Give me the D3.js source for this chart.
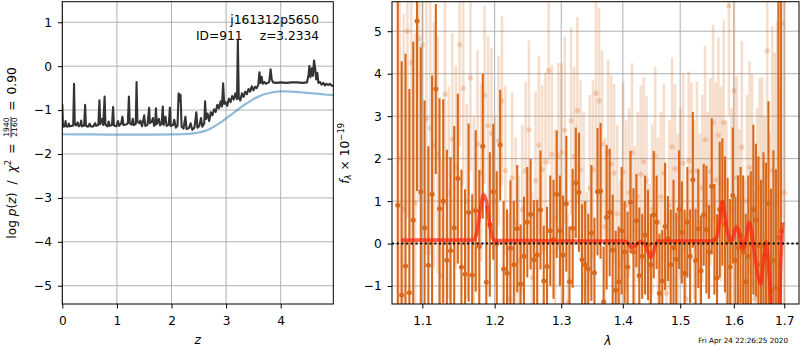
<!DOCTYPE html>
<html>
<head>
<meta charset="utf-8">
<script src="https://cdn.jsdelivr.net/npm/d3@7"></script>
<style>
  body { margin: 0; background: #fff; }
  svg { display: block; }
  text { font-family: "DejaVu Sans", sans-serif; fill: #000; }
</style>
</head>
<body>
<svg id="fig" width="800" height="350"></svg>
<script>
// ---------- redshift probability, left panel ----------
const zGrid = [
  0.000,0.012,0.030,0.050,0.060,0.072,0.100,0.120,0.135,0.170,
  0.200,0.215,0.228,0.250,0.280,0.300,0.330,0.345,0.360,0.400,
  0.418,0.432,0.470,0.500,0.520,0.570,0.600,0.620,0.660,0.680,
  0.695,0.730,0.750,0.775,0.790,0.830,0.850,0.870,0.910,0.930,
  0.945,0.990,1.020,1.040,1.080,1.100,1.120,1.170,1.200,1.220,
  1.235,1.270,1.290,1.310,1.345,1.360,1.375,1.410,1.430,1.460,
  1.500,1.520,1.560,1.590,1.605,1.640,1.660,1.680,1.700,1.715,
  1.730,1.770,1.790,1.820,1.840,1.855,1.890,1.910,1.950,1.970,
  1.985,2.030,2.050,2.080,2.110,2.130,2.150,2.165,2.185,2.220,
  2.255,2.275,2.320,2.350,2.380,2.420,2.455,2.475,2.510,2.540,
  2.565,2.600,2.615,2.632,2.660,2.690,2.720,2.750,2.780,2.810,
  2.840,2.870,2.900,2.925,2.945,2.965,2.990,3.020,3.050,3.080,
  3.110,3.140,3.170,3.200,3.215,3.232,3.260,3.290,3.320,3.350,
  3.380,3.410,3.440,3.470,3.500,3.530,3.560,3.590,3.610,3.630,
  3.650,3.670,3.700,3.730,3.760,3.790,3.815,3.835,3.860,3.920,
  4.000,4.100,4.200,4.300,4.400,4.480,4.510,4.525,4.545,4.570,
  4.590,4.610,4.630,4.650,4.670,4.690,4.720,4.750,4.780,4.810,
  4.840,4.870,4.900,4.930,4.960
];
const logPz = [
  -0.86,-1.36,-1.38,-1.34,-1.25,-1.37,-1.38,-1.31,-1.37,-1.36,
  -1.35,-0.40,-1.30,-1.35,-1.28,-1.37,-1.34,-1.24,-1.37,-1.35,
  -0.88,-1.36,-1.38,-1.31,-1.37,-1.37,-1.30,-1.36,-1.34,-0.78,
  -1.32,-1.20,-1.34,-0.69,-1.33,-1.37,-1.26,-1.36,-1.34,-0.93,
  -1.35,-1.37,-1.25,-1.36,-1.30,-1.15,-1.34,-1.33,-1.30,-0.69,
  -1.30,-1.33,-1.20,-1.34,-1.32,-0.36,-1.26,-1.30,-1.24,-1.37,
  -1.12,-1.36,-1.34,-0.95,-1.30,-1.26,-1.18,-1.36,-1.33,-0.96,
  -1.32,-1.20,-1.35,-1.30,-0.92,-1.34,-1.15,-1.36,-1.33,-0.94,
  -1.36,-1.34,-1.22,-1.40,-1.36,-0.62,-0.80,-0.65,-1.38,-1.42,
  -1.15,-1.43,-1.41,-1.30,-1.45,-1.40,-1.05,-1.40,-1.36,-1.18,
  -1.38,-1.30,-0.80,-1.20,-1.08,-1.25,-1.05,-1.12,-0.98,-1.04,
  -0.88,-0.96,-0.80,-0.92,-0.39,-0.86,-0.82,-0.90,-0.74,-0.82,
  -0.68,-0.76,-0.62,-0.75,0.60,-0.72,-0.78,-0.62,-0.70,-0.58,
  -0.64,-0.52,-0.58,-0.46,-0.55,-0.47,-0.50,-0.42,-0.14,-0.38,
  -0.24,-0.40,-0.36,-0.40,-0.38,-0.36,-0.07,-0.30,-0.37,-0.38,
  -0.37,-0.38,-0.37,-0.37,-0.38,-0.37,-0.20,0.00,-0.25,-0.05,
  -0.22,0.13,-0.05,-0.30,-0.15,-0.38,-0.36,-0.42,-0.38,-0.44,
  -0.40,-0.43,-0.40,-0.44,-0.45
];
// prior on z
const zPrior = [0.0,0.5,1.0,1.5,2.0,2.2,2.4,2.5,2.6,2.7,2.8,2.9,3.0,3.1,3.2,3.3,3.4,3.5,3.6,3.7,3.8,3.9,4.0,4.1,4.2,4.4,4.6,4.8,4.96];
const logPrior = [-1.55,-1.555,-1.56,-1.56,-1.555,-1.55,-1.53,-1.51,-1.48,-1.43,-1.36,-1.28,-1.19,-1.10,-1.00,-0.91,-0.83,-0.75,-0.69,-0.64,-0.61,-0.585,-0.575,-0.575,-0.58,-0.60,-0.62,-0.645,-0.66];

// ---------- spectrum, right panel ----------
const waveA = [
  1.068,1.073,1.078,1.083,1.088,1.093,1.098,1.103,1.108,1.113,
  1.118,1.123,1.128,1.133,1.138,1.143,1.148,1.153,1.158,1.163,
  1.168,1.173,1.178,1.183,1.188,1.193,1.198,1.203,1.208,1.213,
  1.218,1.223,1.228,1.233,1.238,1.243,1.248,1.253,1.258,1.263,
  1.268,1.273,1.278,1.283,1.288,1.293,1.298,1.303,1.308,1.313,
  1.318,1.323,1.328,1.333,1.338,1.343,1.348,1.353,1.358,1.363,
  1.368,1.373,1.378,1.383,1.388,1.393,1.398,1.403,1.408,1.413,
  1.418,1.423,1.428,1.433,1.438,1.443,1.448,1.453,1.458,1.463,
  1.468,1.473,1.478,1.483,1.488,1.493,1.498,1.503,1.508,1.513,
  1.518,1.523,1.528,1.533,1.538,1.543,1.548,1.553,1.558,1.563,
  1.568,1.573,1.578,1.583,1.588,1.593,1.598,1.603,1.608,1.613,
  1.618,1.623,1.628,1.633,1.638,1.643,1.648,1.653,1.658,1.663,
  1.668,1.673,1.678,1.683,1.688,1.693
];
const fluxA = [
  0.90,-1.21,-0.53,-1.16,0.55,5.24,1.22,0.37,-0.51,1.16,
  3.64,0.82,1.00,-0.39,-0.17,0.37,1.53,-0.56,-0.72,0.73,
  -0.74,0.77,-0.07,2.29,-0.91,0.45,1.22,0.00,2.32,-0.60,
  -0.70,-0.11,-0.50,0.35,-0.95,-0.30,0.50,0.69,-0.38,-0.27,
  0.79,-0.88,-0.54,0.30,0.10,1.16,0.30,-0.27,0.94,-0.90,
  0.36,1.43,1.21,-0.38,-0.50,-0.60,0.25,-0.69,1.22,1.24,
  -1.37,0.62,0.73,-0.15,-1.10,-0.90,0.30,-0.20,-0.55,0.98,
  -0.20,0.54,-0.75,-0.30,0.20,-0.03,-0.50,0.68,0.50,-1.17,
  -0.88,0.40,0.12,-0.50,-0.10,-0.37,0.80,0.26,-0.70,0.50,
  -0.30,1.50,-0.40,0.35,-0.64,0.68,0.33,-0.20,1.35,0.10,
  -0.81,0.80,0.98,0.45,0.05,-0.55,1.13,-0.40,-0.10,0.20,
  -0.20,-0.90,-0.30,0.00,0.80,0.55,-0.05,-0.50,-0.05,-0.30,
  0.95,-1.11,-0.40,-1.05,0.14,0.30
];
const errA = [
  6.5,5.5,5.0,4.8,4.2,4.0,3.4,3.0,2.8,2.8,
  2.0,2.6,2.4,2.6,2.2,2.4,2.0,2.3,2.0,2.1,
  1.9,1.9,1.8,1.7,1.8,1.7,1.6,1.7,1.3,1.6,
  1.5,1.6,1.5,1.5,1.4,1.4,1.3,1.3,1.4,1.3,
  1.4,1.3,1.4,1.3,1.4,1.5,1.3,1.4,1.6,1.3,
  1.4,1.3,1.4,1.3,1.5,1.3,1.6,1.3,1.5,1.6,
  1.3,1.7,1.5,1.3,1.4,1.3,1.5,1.2,1.3,1.2,
  1.5,1.1,1.6,1.0,1.4,1.3,1.2,1.5,1.1,1.4,
  1.2,1.5,1.0,1.3,1.6,1.1,1.4,1.2,1.5,1.3,
  1.1,1.6,1.2,1.4,1.3,1.2,1.5,1.1,1.6,1.3,
  1.5,1.6,1.5,1.6,1.5,1.6,1.6,1.5,1.7,1.6,
  1.8,1.6,1.9,1.7,2.0,1.8,2.1,2.0,2.2,2.2,
  2.4,2.4,2.6,2.8,9.0,9.0
];
const waveB = [
  1.0705,1.0755,1.0805,1.0855,1.0905,1.0955,1.1005,1.1055,1.1105,1.1155,
  1.1205,1.1255,1.1305,1.1355,1.1405,1.1455,1.1505,1.1555,1.1605,1.1655,
  1.1705,1.1755,1.1805,1.1855,1.1905,1.1955,1.2005,1.2055,1.2105,1.2155,
  1.2205,1.2255,1.2305,1.2355,1.2405,1.2455,1.2505,1.2555,1.2605,1.2655,
  1.2705,1.2755,1.2805,1.2855,1.2905,1.2955,1.3005,1.3055,1.3105,1.3155,
  1.3205,1.3255,1.3305,1.3355,1.3405,1.3455,1.3505,1.3555,1.3605,1.3655,
  1.3705,1.3755,1.3805,1.3855,1.3905,1.3955,1.4005,1.4055,1.4105,1.4155,
  1.4205,1.4255,1.4305,1.4355,1.4405,1.4455,1.4505,1.4555,1.4605,1.4655,
  1.4705,1.4755,1.4805,1.4855,1.4905,1.4955,1.5005,1.5055,1.5105,1.5155,
  1.5205,1.5255,1.5305,1.5355,1.5405,1.5455,1.5505,1.5555,1.5605,1.5655,
  1.5705,1.5755,1.5805,1.5855,1.5905,1.5955,1.6005,1.6055,1.6105,1.6155,
  1.6205,1.6255,1.6305,1.6355,1.6405,1.6455,1.6505,1.6555,1.6605,1.6655,
  1.6705,1.6755,1.6805,1.6855,1.6905,1.6955,1.7005
];
const fluxB = [
  2.00,0.81,5.00,4.26,0.95,4.82,4.68,2.94,2.72,2.31,
  2.10,-0.75,3.52,1.20,2.46,1.79,4.68,3.66,1.00,3.90,
  0.80,2.35,1.67,3.50,2.78,2.60,1.00,2.42,3.36,1.72,
  -1.30,1.55,0.50,-0.40,0.80,1.71,2.68,-0.80,1.48,2.32,
  1.74,1.92,4.07,2.10,0.60,2.05,2.15,2.67,-1.39,2.89,
  2.06,3.13,1.74,0.90,-0.90,1.30,1.74,3.54,3.36,2.35,
  0.40,2.14,1.87,1.66,0.70,-0.50,1.69,0.90,1.20,2.14,
  0.30,1.10,1.63,1.92,1.48,-0.60,0.80,2.06,0.50,1.10,
  1.66,-1.17,0.90,2.28,1.76,0.60,1.20,1.89,-1.30,1.95,
  1.70,0.80,1.72,0.50,1.30,2.45,0.90,1.70,2.85,1.50,
  2.55,1.40,2.85,0.50,5.60,0.80,3.60,1.55,0.30,2.27,
  -0.90,1.00,1.79,1.49,-1.30,0.60,1.30,1.22,0.20,4.54,
  -0.60,1.72,0.90,1.45,-0.50,5.19,1.20
];
const errB = [
  5.0,4.6,4.4,4.2,4.0,3.8,3.5,3.2,3.0,2.9,
  2.8,2.7,2.6,2.5,2.5,2.4,2.4,2.3,2.3,2.2,
  2.2,2.2,2.1,2.1,2.1,2.0,2.0,2.0,2.0,2.0,
  2.0,2.0,2.0,2.0,2.0,2.1,2.1,2.0,2.1,2.1,
  2.0,2.1,2.2,2.1,2.1,2.2,2.1,2.2,2.1,2.2,
  2.1,2.2,2.1,2.2,2.1,2.2,2.1,2.3,2.2,2.2,
  2.1,2.2,2.1,2.1,2.1,2.0,2.1,2.0,2.0,2.1,
  2.0,2.0,2.1,2.0,2.0,2.0,2.0,2.1,2.0,2.0,
  2.1,2.0,2.0,2.1,2.0,2.0,2.0,2.1,2.0,2.1,
  2.1,2.1,2.1,2.1,2.2,2.2,2.2,2.2,2.3,2.3,
  2.3,2.3,2.4,2.4,2.6,2.4,2.5,2.4,2.4,2.5,
  2.4,2.5,2.5,2.5,2.5,2.6,2.6,2.7,2.8,3.0,
  3.2,3.4,3.6,3.8,4.2,4.6,5.0
];
// best-fit model
const waveModel = [
  1.072,1.100,1.150,1.170,1.175,1.180,1.184,1.188,1.192,1.196,
  1.200,1.250,1.300,1.350,1.400,1.408,1.415,1.422,1.430,1.436,
  1.442,1.448,1.453,1.460,1.500,1.550,1.565,1.572,1.578,1.584,
  1.590,1.595,1.600,1.605,1.611,1.618,1.624,1.630,1.635,1.641,
  1.647,1.653,1.658,1.663,1.668,1.674,1.680,1.688,1.693,1.697
];
const fluxModel = [
  0.08,0.08,0.08,0.08,0.30,0.85,1.15,1.00,0.55,0.18,
  0.07,0.07,0.06,0.06,0.06,0.03,-0.10,-0.04,0.05,0.02,
  -0.15,-0.33,-0.18,0.06,0.06,0.06,0.08,0.45,0.98,0.55,
  0.15,0.06,0.22,0.40,0.20,-0.13,0.15,0.50,0.25,-0.30,
  -0.75,-0.95,-0.40,0.05,-0.50,-1.60,-3.00,-3.00,-0.40,0.50
];

// ---------- ticks & labels ----------
const zTicks = [0, 1, 2, 3, 4];
const lpTicks = [1, 0, -1, -2, -3, -4, -5];
const waveTicks = [1.1, 1.2, 1.3, 1.4, 1.5, 1.6, 1.7];
const fluxTicks = [5, 4, 3, 2, 1, 0, -1];
const objName = "j161312p5650";
const objId = 911;
const zBest = 3.2334;
const chi2 = 1940, nDof = 2160;
const stamp = "Fri Apr 24 22:26:25 2020";

// ---------- drawing ----------
const svg = d3.select("#fig");
const FS = 12.2;
const L = { x0: 62.3, x1: 333.3, y0: 1.7, y1: 304 };
const R = { x0: 392, x1: 799, y0: 1.7, y1: 304 };

const zScale = d3.scaleLinear().domain([0, 4.963]).range([L.x0, L.x1]);
const lpScale = d3.scaleLinear().domain([-5.416, 1.468]).range([L.y1, L.y0]);
const wScale = d3.scaleLog().domain([1.0606, 1.7304]).range([R.x0, R.x1]);
const fScale = d3.scaleLinear().domain([-1.423, 5.695]).range([R.y1, R.y0]);

const defs = svg.append("defs");
function clip(id, b) {
  defs.append("clipPath").attr("id", id).append("rect")
    .attr("x", b.x0).attr("y", b.y0).attr("width", b.x1 - b.x0).attr("height", b.y1 - b.y0);
}
clip("clipL", L);
clip("clipR", R);

function grid(b, xs, ys, xt, yt) {
  const g = svg.append("g").attr("stroke", "#b0b0b0").attr("stroke-width", 1);
  xt.forEach(t => g.append("line").attr("x1", xs(t)).attr("x2", xs(t)).attr("y1", b.y0).attr("y2", b.y1));
  yt.forEach(t => g.append("line").attr("y1", ys(t)).attr("y2", ys(t)).attr("x1", b.x0).attr("x2", b.x1));
}

function axes(b, xs, ys, xt, yt, xf, yf) {
  const gx = svg.append("g").attr("transform", `translate(0,${b.y1})`)
    .call(d3.axisBottom(xs).tickValues(xt).tickFormat(xf).tickSize(4.5).tickSizeOuter(0));
  const gy = svg.append("g").attr("transform", `translate(${b.x0},0)`)
    .call(d3.axisLeft(ys).tickValues(yt).tickFormat(yf).tickSize(4.5).tickPadding(5.8).tickSizeOuter(0));
  [gx, gy].forEach(g => {
    g.select(".domain").remove();
    g.attr("font-family", null).attr("font-size", null);
    g.selectAll("line").attr("stroke", "#000").attr("stroke-width", 1);
    g.selectAll("text").attr("font-size", FS).attr("fill", "#000");
  });
  gx.selectAll("text").attr("y", 21).attr("dy", 0);
  svg.append("rect").attr("x", b.x0).attr("y", b.y0)
    .attr("width", b.x1 - b.x0).attr("height", b.y1 - b.y0)
    .attr("fill", "none").attr("stroke", "#000").attr("stroke-width", 1);
}

// rotated label built from pieces (plain, italic, super/subscript, fraction)
function richLabel(x, yc, pieces) {
  const g = svg.append("g").attr("transform", `translate(${x},${yc}) rotate(-90)`);
  const inner = g.append("g");
  let pos = 0;
  for (const p of pieces) {
    if (p.gap) { pos += p.gap; continue; }
    if (p.num) {
      const n = inner.append("text").attr("font-size", p.fs).attr("y", p.ny).attr("text-anchor", "middle").text(p.num);
      const d = inner.append("text").attr("font-size", p.fs).attr("y", p.dy).attr("text-anchor", "middle").text(p.den);
      const w = Math.max(n.node().getComputedTextLength(), d.node().getComputedTextLength()) + 1.5;
      n.attr("x", pos + w / 2);
      d.attr("x", pos + w / 2);
      inner.append("line").attr("x1", pos).attr("x2", pos + w)
        .attr("y1", p.by).attr("y2", p.by).attr("stroke", "#000").attr("stroke-width", 0.8);
      pos += w;
      continue;
    }
    const t = inner.append("text").attr("x", pos).attr("y", p.y || 0)
      .attr("font-size", p.fs || FS).attr("font-style", p.it ? "italic" : "normal").text(p.t);
    pos += t.node().getComputedTextLength();
  }
  inner.attr("transform", `translate(${-pos / 2},0)`);
}

// ----- left panel -----
grid(L, zScale, lpScale, zTicks, lpTicks);
const gL = svg.append("g").attr("clip-path", "url(#clipL)");
gL.append("path")
  .datum(d3.range(zPrior.length))
  .attr("fill", "none").attr("stroke", "#1f77b4").attr("stroke-opacity", 0.5).attr("stroke-width", 2.2)
  .attr("d", d3.line().x(i => zScale(zPrior[i])).y(i => lpScale(logPrior[i])).curve(d3.curveMonotoneX));
gL.append("path")
  .datum(d3.range(zGrid.length))
  .attr("fill", "none").attr("stroke", "#333").attr("stroke-width", 2.1).attr("stroke-linejoin", "round")
  .attr("d", d3.line().x(i => zScale(zGrid[i])).y(i => lpScale(logPz[i])));
axes(L, zScale, lpScale, zTicks, lpTicks, d3.format("d"), d3.format("d"));

svg.append("text").attr("x", 319).attr("y", 23.5).attr("text-anchor", "end").attr("font-size", FS).text(objName);
svg.append("text").attr("x", 196).attr("y", 39.5).attr("font-size", FS).text(`ID=${objId}`);
svg.append("text").attr("x", 319).attr("y", 39.5).attr("text-anchor", "end").attr("font-size", FS).text(`z=${zBest.toFixed(4)}`);

svg.append("text").attr("x", zScale(2.48)).attr("y", 344).attr("text-anchor", "middle")
  .attr("font-size", FS).attr("font-style", "italic").text("z");
richLabel(15.5, 153, [
  { t: "log" }, { gap: 3.9 }, { t: "p", it: 1 }, { t: "(" }, { t: "z", it: 1 }, { t: ")" },
  { gap: 8 }, { t: "/" }, { gap: 8 },
  { t: "χ", it: 1 }, { t: "2", fs: 8.5, y: -5 }, { gap: 6 }, { t: "=" }, { gap: 6 },
  { num: String(chi2), den: String(nDof), fs: 7.6, ny: -7, dy: 1.8, by: -4.5 },
  { gap: 6 }, { t: "=" }, { gap: 6 }, { t: (chi2 / nDof).toFixed(2) }
]);

// ----- right panel -----
grid(R, wScale, fScale, waveTicks, fluxTicks);
const gR = svg.append("g").attr("clip-path", "url(#clipR)");
const ORANGE = "#d8691c";

// second spectrum (faint)
const idxB = d3.range(waveB.length);
gR.append("g").selectAll("line").data(idxB).join("line")
  .attr("x1", i => wScale(waveB[i])).attr("x2", i => wScale(waveB[i]))
  .attr("y1", i => fScale(fluxB[i] - errB[i])).attr("y2", i => fScale(fluxB[i] + errB[i]))
  .attr("stroke", ORANGE).attr("stroke-opacity", 0.22).attr("stroke-width", 2.6);
gR.append("g").selectAll("circle").data(idxB).join("circle")
  .attr("cx", i => wScale(waveB[i])).attr("cy", i => fScale(fluxB[i])).attr("r", 2.6)
  .attr("fill", ORANGE).attr("fill-opacity", 0.25);

// first spectrum
const idxA = d3.range(waveA.length);
gR.append("g").selectAll("line").data(idxA).join("line")
  .attr("x1", i => wScale(waveA[i])).attr("x2", i => wScale(waveA[i]))
  .attr("y1", i => fScale(fluxA[i] - errA[i])).attr("y2", i => fScale(fluxA[i] + errA[i]))
  .attr("stroke", ORANGE).attr("stroke-width", 2.1);
gR.append("g").selectAll("circle").data(idxA).join("circle")
  .attr("cx", i => wScale(waveA[i])).attr("cy", i => fScale(fluxA[i])).attr("r", 2.5)
  .attr("fill", ORANGE);

// model
gR.append("path")
  .datum(d3.range(waveModel.length))
  .attr("fill", "none").attr("stroke", "#ff2410").attr("stroke-opacity", 0.72).attr("stroke-width", 3.6)
  .attr("stroke-linejoin", "round")
  .attr("d", d3.line().x(i => wScale(waveModel[i])).y(i => fScale(fluxModel[i])).curve(d3.curveMonotoneX));

// zero level
gR.append("line").attr("x1", R.x0).attr("x2", R.x1).attr("y1", fScale(0)).attr("y2", fScale(0))
  .attr("stroke", "#000").attr("stroke-width", 2).attr("stroke-dasharray", "2,2.7");

axes(R, wScale, fScale, waveTicks, fluxTicks, d3.format(".1f"), d3.format("d"));

svg.append("text").attr("x", wScale(1.375)).attr("y", 345).attr("text-anchor", "middle")
  .attr("font-size", FS).attr("font-style", "italic").text("λ");
richLabel(348.5, 153.3, [
  { t: "f", it: 1 }, { t: "λ", it: 1, fs: 8.5, y: 2.5 }, { gap: 4 }, { t: "×" }, { gap: 4 },
  { t: "10" }, { t: "−19", fs: 8.5, y: -5 }
]);

svg.append("text").attr("x", 788).attr("y", 342.5).attr("text-anchor", "end")
  .attr("font-size", 7.2).text(stamp);
</script>
</body>
</html>
